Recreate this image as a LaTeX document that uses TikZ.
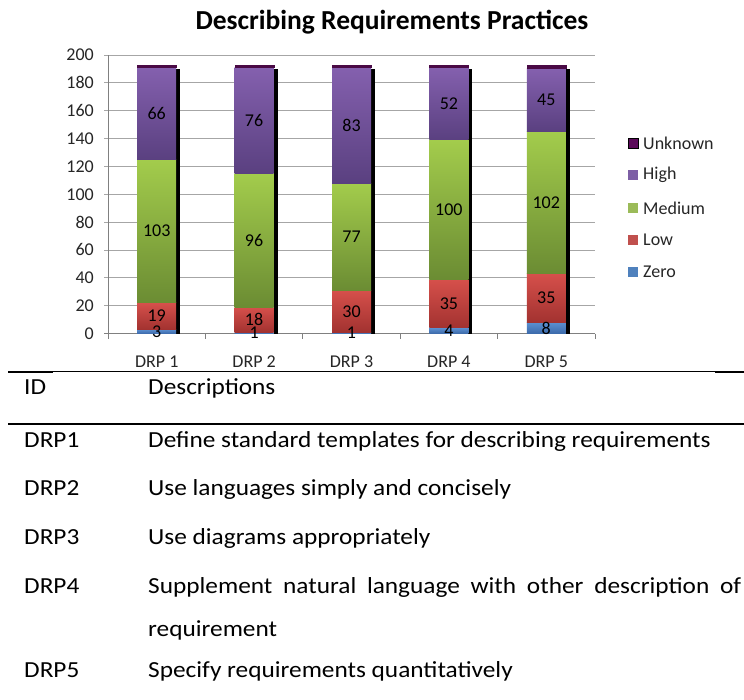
\documentclass[tikz,border=0pt]{standalone}
\usepackage{fontspec}
\setmainfont{Carlito}
\newfontfamily\tabfont[FakeStretch=1.1]{Carlito}
\begin{document}
\begin{tikzpicture}[x=1pt,y=-1pt,
  grid/.style={draw=black!35,line width=0.8pt},
  axisline/.style={draw=black!50,line width=0.9pt},
  lbl/.style={font=\fontsize{18}{20}\selectfont,inner sep=0pt,text=black},
  axlbl/.style={font=\fontsize{18}{20}\selectfont,inner sep=0pt,text=black!85},
  legtxt/.style={font=\fontsize{18}{20}\selectfont,inner sep=0pt,anchor=west,text=black!85},
  tabtxt/.style={font=\tabfont\fontsize{23}{26}\selectfont,inner sep=0pt,anchor=base west},
  zeroshade/.style={top color=zeroT,bottom color=zeroB},
  lowshade/.style={top color=lowT,bottom color=lowB},
  medshade/.style={top color=medT,bottom color=medB},
  highshade/.style={top color=highT,bottom color=highB},
  unkfill/.style={fill=unk},
  legsq/.style={minimum size=10pt,inner sep=0pt}
]
\definecolor{zeroT}{HTML}{5B8FD0}\definecolor{zeroB}{HTML}{3C6AAA}
\definecolor{lowT}{HTML}{D6504B}\definecolor{lowB}{HTML}{A23230}
\definecolor{medT}{HTML}{A3CC4C}\definecolor{medB}{HTML}{6B8C33}
\definecolor{highT}{HTML}{8460AE}\definecolor{highB}{HTML}{5A4080}
\definecolor{unk}{HTML}{4A0A45}
\definecolor{unkleg}{HTML}{5B0A5A}
\definecolor{highleg}{HTML}{7D5FA5}
\definecolor{medleg}{HTML}{9BBB59}
\definecolor{lowleg}{HTML}{C0504D}
\definecolor{zeroleg}{HTML}{4F81BD}
\useasboundingbox[fill=white] (0,0) rectangle (744,699);

% title
\node[font=\fontsize{27.5}{30}\selectfont\bfseries,inner sep=0pt] (title) at (392,22) {Describing Requirements Practices};

% gridlines and y labels
\foreach \v in {20,40,...,200}{
  \pgfmathsetmacro\gy{333.5-1.3925*\v}
  \draw[grid] (104,\gy) -- (595,\gy);
}
\foreach \v in {0,20,...,200}{
  \pgfmathsetmacro\gy{333.5-1.3925*\v}
  \node[axlbl,anchor=east] (yl\v) at (94,\gy) {\v};
}
% axes
\draw[axisline] (104,333.5) -- (595,333.5);
\draw[axisline] (108,55) -- (108,333.5);
\foreach \k in {0,...,5}{
  \pgfmathsetmacro\tx{108+97.4*\k}
  \draw[axisline] (\tx,333.5) -- (\tx,339);
}

% bars
\foreach \i/\z/\l/\m/\h/\u in {1/3/19/103/66/2, 2/1/18/96/76/2, 3/1/30/77/83/2, 4/4/35/100/52/2, 5/8/35/102/45/3}{
  \pgfmathsetmacro\cx{108+97.4*(\i-0.5)}
  \pgfmathsetmacro\xa{\cx-19.5}
  \pgfmathsetmacro\xb{\cx+19.5}
  \pgfmathsetmacro\xs{\cx+23.5}
  \pgfmathsetmacro\ya{333.5-1.3925*\z}
  \pgfmathsetmacro\yb{333.5-1.3925*(\z+\l)}
  \pgfmathsetmacro\yc{333.5-1.3925*(\z+\l+\m)}
  \pgfmathsetmacro\yd{333.5-1.3925*(\z+\l+\m+\h)}
  \pgfmathsetmacro\ye{333.5-1.3925*(\z+\l+\m+\h+\u)}
  \pgfmathsetmacro\ysh{\ye+4.5}
  \fill[black] (\xb,\ysh) rectangle (\xs,333.5);
  \shade[zeroshade] (\xa,333.5) rectangle (\xb,\ya);
  \shade[lowshade] (\xa,\ya) rectangle (\xb,\yb);
  \shade[medshade] (\xa,\yb) rectangle (\xb,\yc);
  \shade[highshade] (\xa,\yc) rectangle (\xb,\yd);
  \fill[unkfill] (\xa,\yd) rectangle (\xb+1,\ye);
  \node[lbl] (z\i) at (\cx,{(333.5+\ya)/2}) {\z};
  \node[lbl] (l\i) at (\cx,{(\ya+\yb)/2}) {\l};
  \node[lbl] (m\i) at (\cx,{(\yb+\yc)/2}) {\m};
  \node[lbl] (h\i) at (\cx,{(\yc+\yd)/2}) {\h};
  \node[axlbl] (c\i) at (\cx,362) {DRP \i};
}

% legend
\foreach \n/\t/\c/\yy in {u/Unknown/unkleg/143, h/High/highleg/175, m/Medium/medleg/208, l/Low/lowleg/240, z/Zero/zeroleg/272}{
  \node[legsq,fill=\c] (sq\n) at (633,\yy) {};
  \node[legtxt] (lt\n) at (643,\yy) {\t};
}
\draw[black,line width=0.6pt] (squ.south west) rectangle (squ.north east);

% table rules
\draw[black,line width=1pt] (8,371.5) -- (744,371.5);
\draw[black,line width=2pt] (8,372) -- (53,372);
\draw[black,line width=2pt] (715,372) -- (744,372);
\draw[black,line width=2pt] (8,423.5) -- (744,423.5);

% table text
\node[tabtxt] (id) at (24,394) {ID};
\node[tabtxt] (desc) at (148,394) {Descriptions};
\node[tabtxt] (r1) at (24,447) {DRP1};
\node[tabtxt] (d1) at (148,447) {Define standard templates for describing requirements};
\node[tabtxt] (r2) at (24,495) {DRP2};
\node[tabtxt] (d2) at (148,495) {Use languages simply and concisely};
\node[tabtxt] (r3) at (24,544) {DRP3};
\node[tabtxt] (d3) at (148,544) {Use diagrams appropriately};
\node[tabtxt] (r4) at (24,593) {DRP4};
\node[tabtxt] (d4) at (148,593) {\makebox[593pt][s]{Supplement natural language with other description of}};
\node[tabtxt] (d4b) at (148,636) {requirement};
\node[tabtxt] (r5) at (24,677) {DRP5};
\node[tabtxt] (d5) at (148,677) {Specify requirements quantitatively};
\end{tikzpicture}
\end{document}
